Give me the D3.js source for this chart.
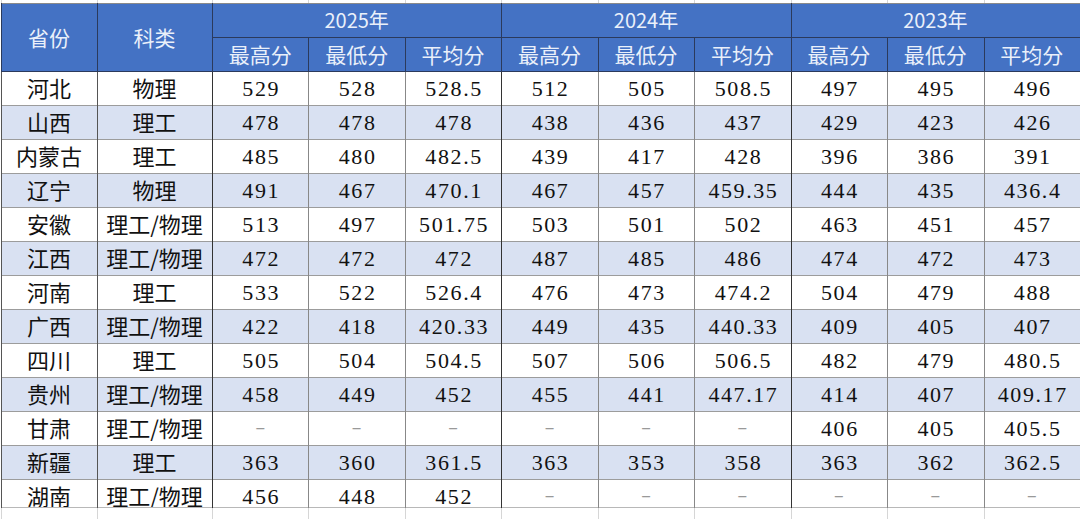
<!DOCTYPE html>
<html>
<head>
<meta charset="utf-8">
<script src="https://cdn.jsdelivr.net/npm/d3@7"></script>
<style>
  html, body { margin: 0; padding: 0; background: #fff; }
  svg { display: block; }
</style>
</head>
<body>
<div id="chart"></div>
<script>
// ----- data -----
const provinces = ['河北', '山西', '内蒙古', '辽宁', '安徽', '江西', '河南', '广西', '四川', '贵州', '甘肃', '新疆', '湖南']
const subjects = ['物理', '理工', '理工', '物理', '理工/物理', '理工/物理', '理工', '理工/物理', '理工', '理工/物理', '理工/物理', '理工', '理工/物理']
const years = ['2025年', '2024年', '2023年']
const scoreLabels = ['最高分', '最低分', '平均分']

// each row: [max, min, avg]; null = no data ("–")
const scores2025 = [
  ['529', '528', '528.5'], ['478', '478', '478'], ['485', '480', '482.5'], ['491', '467', '470.1'],
  ['513', '497', '501.75'], ['472', '472', '472'], ['533', '522', '526.4'], ['422', '418', '420.33'],
  ['505', '504', '504.5'], ['458', '449', '452'], [null, null, null], ['363', '360', '361.5'],
  ['456', '448', '452']
]
const scores2024 = [
  ['512', '505', '508.5'], ['438', '436', '437'], ['439', '417', '428'], ['467', '457', '459.35'],
  ['503', '501', '502'], ['487', '485', '486'], ['476', '473', '474.2'], ['449', '435', '440.33'],
  ['507', '506', '506.5'], ['455', '441', '447.17'], [null, null, null], ['363', '353', '358'],
  [null, null, null]
]
const scores2023 = [
  ['497', '495', '496'], ['429', '423', '426'], ['396', '386', '391'], ['444', '435', '436.4'],
  ['463', '451', '457'], ['474', '472', '473'], ['504', '479', '488'], ['409', '405', '407'],
  ['482', '479', '480.5'], ['414', '407', '409.17'], ['406', '405', '405.5'], ['363', '362', '362.5'],
  [null, null, null]
]

// ----- layout -----
const width = 1080
const height = 519
const tableTop = 3
const headRow = 34
const bodyTop = tableTop + headRow * 2
const rowH = 34
const bodyBottom = 508

const colEdges = [1, 97, 212]
const scoreX = d3.scaleBand().domain(d3.range(9)).range([212, 1080])
const yearX = d3.scaleBand().domain(years).range([212, 1080])
const rowY = d3.scaleBand().domain(d3.range(provinces.length)).range([bodyTop, bodyTop + rowH * provinces.length])

const headBlue = '#4472c4'
const altBlue = '#d9e1f2'
const headText = '#eaf0fa'
const cjk = '"Noto Sans CJK SC", "Noto Sans", sans-serif'
const serif = '"Liberation Serif", "DejaVu Serif", serif'

const svg = d3.select('#chart').append('svg').attr('width', width).attr('height', height)

// faint spreadsheet gridlines outside the table
const faint = svg.append('g').attr('stroke', '#d6d6d6').attr('stroke-width', 1)
const allEdges = colEdges.concat(d3.range(1, 9).map(i => scoreX(i)))
faint.selectAll('line.top').data(allEdges).enter().append('line')
  .attr('x1', d => Math.round(d) + 0.5).attr('x2', d => Math.round(d) + 0.5).attr('y1', 0).attr('y2', tableTop)
faint.selectAll('line.bot').data(allEdges).enter().append('line')
  .attr('x1', d => Math.round(d) + 0.5).attr('x2', d => Math.round(d) + 0.5).attr('y1', bodyBottom).attr('y2', height)

// body rows
svg.append('clipPath').attr('id', 'bodyClip').append('rect')
  .attr('x', 0).attr('y', bodyTop).attr('width', width).attr('height', bodyBottom - bodyTop)
const body = svg.append('g').attr('clip-path', 'url(#bodyClip)')

body.selectAll('rect.row').data(provinces).enter().append('rect')
  .attr('x', 1).attr('y', (d, i) => rowY(i)).attr('width', width).attr('height', rowH)
  .attr('fill', (d, i) => i % 2 === 1 ? altBlue : '#fff')

// header background
svg.append('rect').attr('x', 1).attr('y', tableTop).attr('width', width).attr('height', headRow * 2).attr('fill', headBlue)

// body text
const rows = provinces.map((p, i) => ({
  province: p,
  subject: subjects[i],
  values: scores2025[i].concat(scores2024[i], scores2023[i])
}))

const rowG = body.selectAll('g.row').data(rows).enter().append('g')
  .attr('transform', (d, i) => `translate(0 ${rowY(i) + rowH / 2 + 1})`)

rowG.append('text').text(d => d.province)
  .attr('x', (colEdges[0] + colEdges[1]) / 2).attr('dy', '0.36em')
  .attr('text-anchor', 'middle').style('font-family', cjk).style('font-size', '22px').attr('fill', '#111')

rowG.append('text').text(d => d.subject)
  .attr('x', (colEdges[1] + colEdges[2]) / 2).attr('dy', '0.36em')
  .attr('text-anchor', 'middle').style('font-family', cjk).style('font-size', '22px').attr('fill', '#111')

rowG.selectAll('text.val').data(d => d.values).enter().append('text')
  .attr('class', 'val')
  .text(d => d === null ? '–' : d)
  .attr('x', (d, j) => scoreX(j) + scoreX.bandwidth() / 2 + (d === null ? 0 : 1))
  .attr('dy', d => d === null ? '0.3em' : '0.34em')
  .attr('text-anchor', 'middle')
  .style('font-family', d => d === null ? cjk : serif)
  .style('font-size', d => d === null ? '18px' : '22px')
  .style('letter-spacing', d => d === null ? '0px' : '1.6px')
  .attr('fill', d => d === null ? '#999' : '#111')

// body grid lines
const grid = svg.append('g')
grid.selectAll('line.h').data(d3.range(1, provinces.length)).enter().append('line')
  .attr('x1', 1).attr('x2', width).attr('y1', i => rowY(i) + 0.5).attr('y2', i => rowY(i) + 0.5)
  .attr('stroke', '#9c9c9c')
grid.append('line').attr('x1', 1).attr('x2', width).attr('y1', bodyBottom - 0.5).attr('y2', bodyBottom - 0.5)
  .attr('stroke', '#b8b8b8')

const vLines = [
  { x: colEdges[0], c: '#555' },
  { x: colEdges[1], c: '#555' },
  { x: colEdges[2], c: '#333' }
].concat(d3.range(1, 9).map(i => ({ x: scoreX(i), c: i % 3 === 0 ? '#333' : '#888' })))

grid.selectAll('line.v').data(vLines).enter().append('line')
  .attr('x1', d => Math.round(d.x) + 0.5).attr('x2', d => Math.round(d.x) + 0.5)
  .attr('y1', bodyTop).attr('y2', bodyBottom)
  .attr('stroke', d => d.c)

// header lines and text
const head = svg.append('g')
head.append('line').attr('x1', 1).attr('x2', width).attr('y1', tableTop + 0.5).attr('y2', tableTop + 0.5).attr('stroke', '#8a8a8a')
head.append('line').attr('x1', 212).attr('x2', width).attr('y1', tableTop + headRow + 0.5).attr('y2', tableTop + headRow + 0.5).attr('stroke', '#2b3a5c')
head.append('line').attr('x1', 1).attr('x2', width).attr('y1', bodyTop + 0.5).attr('y2', bodyTop + 0.5).attr('stroke', '#2b3a5c')

const headV = [colEdges[0], colEdges[1], colEdges[2], yearX(years[1]), yearX(years[2])]
head.selectAll('line.hv').data(headV).enter().append('line')
  .attr('x1', d => Math.round(d) + 0.5).attr('x2', d => Math.round(d) + 0.5)
  .attr('y1', tableTop).attr('y2', bodyTop).attr('stroke', '#2b3a5c')
head.selectAll('line.hs').data(d3.range(1, 9).filter(i => i % 3 !== 0)).enter().append('line')
  .attr('x1', i => Math.round(scoreX(i)) + 0.5).attr('x2', i => Math.round(scoreX(i)) + 0.5)
  .attr('y1', tableTop + headRow).attr('y2', bodyTop).attr('stroke', '#2b3a5c')

head.append('text').text('省份')
  .attr('x', (colEdges[0] + colEdges[1]) / 2).attr('y', tableTop + headRow + 1).attr('dy', '0.36em')
  .attr('text-anchor', 'middle').style('font-family', cjk).style('font-size', '21px').attr('fill', headText)
head.append('text').text('科类')
  .attr('x', (colEdges[1] + colEdges[2]) / 2).attr('y', tableTop + headRow + 1).attr('dy', '0.36em')
  .attr('text-anchor', 'middle').style('font-family', cjk).style('font-size', '21px').attr('fill', headText)

head.selectAll('text.year').data(years).enter().append('text')
  .text(d => d)
  .attr('x', d => yearX(d) + yearX.bandwidth() / 2).attr('y', tableTop + headRow / 2 + 1).attr('dy', '0.36em')
  .attr('text-anchor', 'middle').style('font-family', cjk).style('font-size', '20px').attr('fill', headText)

head.selectAll('text.sub').data(d3.range(9)).enter().append('text')
  .text(i => scoreLabels[i % 3])
  .attr('x', i => scoreX(i) + scoreX.bandwidth() / 2).attr('y', tableTop + headRow * 1.5 + 1).attr('dy', '0.36em')
  .attr('text-anchor', 'middle').style('font-family', cjk).style('font-size', '21px').attr('fill', headText)
</script>
</body>
</html>
